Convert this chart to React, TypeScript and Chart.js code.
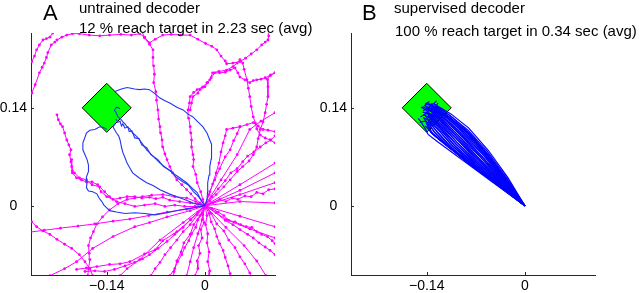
import React, { useEffect, useRef } from "react";
import { Chart, registerables } from "chart.js";

Chart.register(...registerables);

type Pt = [number, number];

// ---------- axes ----------
const X_TICKS = [-0.14, 0];
const X_TICK_LABELS = ["\u22120.14", "0"];
const Y_TICKS = [0, 0.14];
const Y_TICK_LABELS = ["0", "0.14"];
const X_RANGE: [number, number] = [-0.248, 0.1];
const Y_RANGE: [number, number] = [-0.099, 0.247];

// ---------- target ----------
const TARGET: Pt = [-0.14, 0.14];

// ---------- panel titles ----------
const TITLE_A = ["untrained decoder", "12 % reach target in 2.23 sec (avg)"];
const TITLE_B = ["supervised decoder", "100 % reach target in 0.34 sec (avg)"];

// ---------- panel A: failed (magenta) trajectories ----------
const MAG_UPPER: Pt[][] = [
  [[0,0],[-0.007,0.004],[-0.014,0.01],[-0.02,0.017],[-0.026,0.023],[-0.033,0.03],[-0.04,0.037],[-0.046,0.047],[-0.05,0.056],[-0.054,0.066],[-0.057,0.074],[-0.06,0.084],[-0.061,0.094],[-0.063,0.104],[-0.064,0.113],[-0.066,0.124],[-0.067,0.137],[-0.069,0.151],[-0.07,0.163],[-0.073,0.176],[-0.072,0.188],[-0.073,0.2],[-0.074,0.212],[-0.074,0.223],[-0.079,0.231],[-0.086,0.24],[-0.09,0.25]],
  [[-0.26,0.145],[-0.247,0.161],[-0.242,0.173],[-0.236,0.19],[-0.232,0.198],[-0.229,0.204],[-0.226,0.212],[-0.224,0.219],[-0.219,0.23],[-0.214,0.234],[-0.211,0.237],[-0.204,0.241],[-0.197,0.244],[-0.189,0.246],[-0.179,0.246],[-0.165,0.244],[-0.15,0.243],[-0.136,0.244],[-0.12,0.245],[-0.105,0.244],[-0.093,0.246],[-0.086,0.241],[-0.079,0.233],[-0.071,0.238],[-0.06,0.244],[-0.048,0.245],[-0.035,0.244],[-0.021,0.244],[-0.01,0.238],[0.001,0.232],[0.01,0.228],[0.017,0.223],[0.023,0.214],[0.029,0.207],[0.031,0.203],[0.04,0.204],[0.05,0.206],[0.058,0.211],[0.066,0.217],[0.074,0.223],[0.081,0.23],[0.086,0.234],[0.09,0.237],[0.091,0.243],[0.089,0.255]],
  [[-0.26,0.19],[-0.247,0.206],[-0.243,0.214],[-0.24,0.223],[-0.236,0.23],[-0.231,0.237],[-0.226,0.239],[-0.221,0.241],[-0.217,0.247],[-0.214,0.26]],
  [[0,0],[-0.003,0.009],[-0.006,0.02],[-0.011,0.033],[-0.013,0.045],[-0.017,0.056],[-0.016,0.066],[-0.017,0.073],[-0.019,0.084],[-0.019,0.094],[-0.02,0.104],[-0.021,0.113],[-0.023,0.125],[-0.024,0.137],[-0.022,0.147],[-0.021,0.156],[-0.016,0.162],[-0.011,0.166],[-0.003,0.17],[0.003,0.176],[0.007,0.18],[0.011,0.19],[0.02,0.192],[0.031,0.194],[0.04,0.199],[0.046,0.204],[0.05,0.209],[0.054,0.204],[0.056,0.195],[0.06,0.18],[0.062,0.168],[0.064,0.156],[0.066,0.142],[0.069,0.127],[0.072,0.118],[0.074,0.11],[0.079,0.101],[0.086,0.097],[0.093,0.094],[0.1,0.09],[0.11,0.087]],
  [[-0.021,0.137],[-0.019,0.147],[-0.017,0.156],[-0.01,0.161],[-0.007,0.166],[0,0.17],[0.004,0.176],[0.009,0.183],[0.014,0.19],[0.021,0.19],[0.029,0.191],[0.036,0.194],[0.043,0.197],[0.047,0.19],[0.05,0.184],[0.057,0.18],[0.064,0.176],[0.069,0.179],[0.074,0.18],[0.08,0.181],[0.086,0.183],[0.093,0.186],[0.1,0.19],[0.11,0.193]],
  [[0.1,0.19],[0.094,0.187],[0.089,0.181],[0.09,0.17],[0.09,0.156],[0.088,0.145],[0.086,0.133],[0.083,0.12],[0.079,0.109],[0.076,0.096],[0.074,0.084],[0.069,0.073],[0.063,0.064],[0.054,0.056],[0.046,0.049],[0.036,0.037],[0.027,0.027],[0.016,0.016],[0.007,0.007],[0,0]],
  [[0,0],[0.006,0.016],[0.011,0.031],[0.016,0.047],[0.02,0.061],[0.023,0.077],[0.026,0.09],[0.029,0.1],[0.031,0.109],[0.04,0.111],[0.05,0.113],[0.06,0.116],[0.069,0.119],[0.076,0.114],[0.083,0.109],[0.09,0.108],[0.1,0.106],[0.11,0.105]],
  [[0,0],[0.007,0.02],[0.014,0.037],[0.021,0.053],[0.029,0.07],[0.036,0.08],[0.041,0.093],[0.046,0.103],[0.05,0.113]],
];

const MAG_RIGHT: Pt[][] = [
  [[0,0],[0.05,0.03],[0.1,0.061],[0.11,0.067]],
  [[0,0],[0.05,0.022],[0.1,0.047],[0.11,0.051]],
  [[0,0],[0.05,0.016],[0.1,0.033],[0.11,0.036]],
  [[0,0],[0.05,0.006],[0.1,0.004],[0.11,0.004]],
  [[0,0],[0.011,0.004],[0.021,0.009],[0.03,0.006],[0.039,0.011],[0.047,0.009],[0.057,0.014],[0.066,0.013],[0.074,0.019],[0.083,0.017],[0.091,0.023],[0.1,0.024],[0.11,0.028]],
  [[0,0],[0.01,0.013],[0.019,0.024],[0.029,0.036],[0.037,0.047],[0.046,0.053],[0.054,0.063],[0.061,0.071],[0.07,0.077],[0.079,0.084],[0.087,0.09],[0.094,0.094],[0.1,0.1],[0.11,0.106]],
  [[0,0],[0.01,-0.004],[0.019,-0.009],[0.027,-0.014],[0.034,-0.021],[0.043,-0.023],[0.051,-0.027],[0.059,-0.03],[0.067,-0.031],[0.074,-0.037],[0.081,-0.041],[0.089,-0.044],[0.096,-0.05],[0.1,-0.054],[0.11,-0.058]],
  [[0,0],[0.023,0.037],[0.046,0.073],[0.064,0.109],[0.08,0.121],[0.1,0.133],[0.11,0.137]],
  [[0,0],[0.05,-0.015],[0.1,-0.03],[0.11,-0.033]],
  [[0,0],[0.031,-0.02],[0.064,-0.033],[0.1,-0.046],[0.11,-0.049]],
  [[0,0],[0.016,-0.01],[0.029,-0.021],[0.04,-0.027],[0.05,-0.034],[0.061,-0.041],[0.069,-0.046],[0.077,-0.053],[0.086,-0.059],[0.093,-0.064],[0.1,-0.07],[0.11,-0.074]],
];

const MAG_LOWER: Pt[][] = [
  [[0,0],[-0.004,-0.011],[-0.01,-0.02],[-0.013,-0.031],[-0.019,-0.04],[-0.023,-0.05],[-0.029,-0.06],[-0.033,-0.07],[-0.039,-0.08],[-0.043,-0.09],[-0.05,-0.1],[-0.055,-0.11]],
  [[0,0],[-0.004,-0.02],[-0.01,-0.04],[-0.016,-0.06],[-0.021,-0.08],[-0.026,-0.1],[-0.028,-0.11]],
  [[0,0],[-0.003,-0.013],[-0.001,-0.024],[-0.006,-0.034],[-0.004,-0.046],[-0.009,-0.057],[-0.007,-0.068],[-0.011,-0.079],[-0.01,-0.09],[-0.014,-0.1],[-0.015,-0.11]],
  [[0,0],[0.003,-0.014],[0.001,-0.027],[0.004,-0.04],[0.003,-0.053],[0.006,-0.066],[0.004,-0.08],[0.007,-0.093],[0.006,-0.11]],
  [[0,0],[0.006,-0.011],[0.009,-0.023],[0.014,-0.033],[0.017,-0.044],[0.021,-0.054],[0.026,-0.064],[0.029,-0.074],[0.033,-0.086],[0.036,-0.097],[0.041,-0.11]],
  [[0,0],[0.009,-0.011],[0.017,-0.026],[0.027,-0.036],[0.034,-0.049],[0.043,-0.06],[0.05,-0.073],[0.057,-0.083],[0.064,-0.096],[0.07,-0.11]],
  [[0,0],[0.03,-0.031],[0.056,-0.057],[0.074,-0.079],[0.087,-0.1],[0.093,-0.11]],
  [[0,0],[-0.011,-0.013],[-0.021,-0.027],[-0.031,-0.037],[-0.04,-0.049],[-0.049,-0.06],[-0.057,-0.07],[-0.064,-0.081],[-0.071,-0.09],[-0.077,-0.1],[-0.081,-0.11]],
  [[0,0],[-0.031,-0.024],[-0.064,-0.049],[-0.093,-0.077],[-0.111,-0.09],[-0.121,-0.1],[-0.128,-0.11]],
  [[0,0],[-0.007,-0.014],[-0.016,-0.027],[-0.021,-0.041],[-0.03,-0.053],[-0.034,-0.066],[-0.04,-0.079],[-0.044,-0.094],[-0.046,-0.11]],
];

const MAG_LEFT: Pt[][] = [
  [[-0.211,0.13],[-0.209,0.123],[-0.206,0.117],[-0.203,0.113],[-0.2,0.104],[-0.197,0.094],[-0.194,0.087],[-0.191,0.08],[-0.193,0.073],[-0.191,0.063],[-0.19,0.056],[-0.189,0.047],[-0.183,0.04],[-0.176,0.037],[-0.169,0.034],[-0.161,0.034],[-0.153,0.03],[-0.148,0.02],[-0.14,0.013],[-0.131,0.009],[-0.121,0.011],[-0.111,0.013],[-0.1,0.013],[-0.09,0.011],[-0.079,0.012],[-0.07,0.01],[-0.06,0.012],[-0.05,0.008],[-0.036,0.006],[-0.021,0.004],[-0.01,0.002],[0,0]],
  [[-0.19,0.066],[-0.189,0.05],[-0.186,0.047],[-0.179,0.04],[-0.169,0.037],[-0.161,0.03],[-0.15,0.027],[-0.143,0.02],[-0.136,0.013],[-0.126,0.006],[-0.114,0.003],[-0.1,-0.001],[-0.086,0.001],[-0.071,0.003],[-0.057,-0.001],[-0.043,0.001],[-0.029,-0.001],[-0.014,-0.001],[0,0]],
  [[0,0],[-0.026,-0.005],[-0.054,-0.009],[-0.08,-0.014],[-0.107,-0.019],[-0.131,-0.022],[-0.157,-0.026],[-0.181,-0.029],[-0.206,-0.032],[-0.229,-0.035],[-0.26,-0.039]],
  [[-0.169,-0.11],[-0.167,-0.1],[-0.166,-0.09],[-0.164,-0.077],[-0.165,-0.068],[-0.166,-0.057],[-0.163,-0.046],[-0.159,-0.037],[-0.154,-0.026],[-0.146,-0.016],[-0.136,-0.006],[-0.124,0.003],[-0.111,0.009],[-0.1,0.011],[-0.089,0.013],[-0.076,0.015],[-0.06,0.016],[-0.043,0.013],[-0.026,0.011],[-0.013,0.006],[0,0]],
  [[-0.26,-0.015],[-0.247,-0.023],[-0.24,-0.03],[-0.231,-0.036],[-0.221,-0.041],[-0.211,-0.048],[-0.2,-0.055],[-0.19,-0.061],[-0.179,-0.07],[-0.171,-0.08],[-0.164,-0.09],[-0.16,-0.1],[-0.157,-0.11]],
  [[0,0],[-0.021,-0.007],[-0.054,-0.016],[-0.079,-0.024],[-0.1,-0.03],[-0.131,-0.044],[-0.16,-0.061],[-0.183,-0.08],[-0.2,-0.09],[-0.221,-0.1],[-0.235,-0.11]],
  [[-0.171,-0.094],[-0.157,-0.093],[-0.143,-0.094],[-0.129,-0.091],[-0.114,-0.086],[-0.1,-0.081],[-0.089,-0.076],[-0.079,-0.07],[-0.067,-0.061],[-0.054,-0.051],[-0.043,-0.041],[-0.031,-0.031],[-0.021,-0.02],[-0.01,-0.009],[0,0]],
  [[0,0],[-0.02,-0.02],[-0.04,-0.037],[-0.06,-0.05],[-0.071,-0.063],[-0.086,-0.069],[-0.107,-0.08],[-0.121,-0.083],[-0.136,-0.084],[-0.154,-0.087],[-0.169,-0.089],[-0.183,-0.091]],
];

// ---------- panel A: successful (blue) trajectories ----------
const BLUE_A: Pt[][] = [
  [[0,0],[-0.018,-0.003],[-0.036,-0.006],[-0.054,-0.01],[-0.071,-0.013],[-0.086,-0.011],[-0.1,-0.01],[-0.114,-0.011],[-0.126,-0.009],[-0.136,-0.007],[-0.14,-0.003],[-0.144,0.001],[-0.147,0.006],[-0.151,0.011],[-0.154,0.017],[-0.16,0.02],[-0.166,0.021],[-0.169,0.026],[-0.168,0.033],[-0.169,0.041],[-0.166,0.049],[-0.166,0.058],[-0.168,0.066],[-0.171,0.073],[-0.174,0.08],[-0.174,0.09],[-0.171,0.098],[-0.169,0.104],[-0.164,0.108],[-0.157,0.109],[-0.15,0.113],[-0.144,0.112],[-0.14,0.109]],
  [[0,0],[-0.006,0.009],[-0.011,0.019],[-0.019,0.026],[-0.026,0.033],[-0.036,0.04],[-0.046,0.047],[-0.054,0.053],[-0.064,0.061],[-0.073,0.07],[-0.083,0.08],[-0.088,0.087],[-0.093,0.094],[-0.097,0.099],[-0.103,0.104],[-0.107,0.11],[-0.111,0.113],[-0.114,0.117],[-0.117,0.12],[-0.12,0.124],[-0.124,0.127],[-0.126,0.132],[-0.129,0.137],[-0.126,0.141],[-0.121,0.139]],
  [[0,0],[-0.009,0.013],[-0.016,0.02],[-0.024,0.03],[-0.031,0.034],[-0.041,0.041],[-0.049,0.05],[-0.059,0.056],[-0.067,0.066],[-0.077,0.073],[-0.083,0.083],[-0.09,0.087],[-0.094,0.096],[-0.1,0.097],[-0.104,0.107],[-0.108,0.106],[-0.11,0.113],[-0.114,0.111],[-0.117,0.117],[-0.119,0.114],[-0.121,0.121],[-0.124,0.119],[-0.127,0.124]],
  [[0,0],[0.003,0.009],[0.004,0.021],[0.004,0.033],[0.006,0.044],[0.007,0.056],[0.009,0.067],[0.01,0.08],[0.009,0.088],[0.007,0.094],[0.003,0.104],[-0.003,0.113],[-0.01,0.12],[-0.017,0.127],[-0.024,0.131],[-0.031,0.137],[-0.04,0.141],[-0.05,0.147],[-0.057,0.15],[-0.064,0.154],[-0.071,0.16],[-0.079,0.166],[-0.086,0.167],[-0.093,0.166],[-0.1,0.167],[-0.111,0.169],[-0.119,0.167],[-0.124,0.165],[-0.129,0.163]],
  [[0,0],[-0.017,0.004],[-0.029,0.009],[-0.04,0.013],[-0.051,0.017],[-0.064,0.023],[-0.074,0.029],[-0.083,0.033],[-0.094,0.04],[-0.103,0.047],[-0.107,0.054],[-0.111,0.061],[-0.114,0.069],[-0.117,0.076],[-0.119,0.084],[-0.121,0.094],[-0.123,0.1],[-0.126,0.104],[-0.129,0.109],[-0.131,0.113],[-0.128,0.117]],
];

// ---------- panel B: supervised decoder trajectories ----------
const BLUE_B: Pt[][] = [
  [[0,0],[-0.024,0.04],[-0.052,0.079],[-0.08,0.111],[-0.105,0.131],[-0.122,0.141],[-0.13,0.146],[-0.126,0.15]],
  [[0,0],[-0.025,0.039],[-0.053,0.077],[-0.081,0.108],[-0.107,0.129],[-0.124,0.14],[-0.133,0.144]],
  [[0,0],[-0.026,0.038],[-0.055,0.075],[-0.083,0.106],[-0.108,0.127],[-0.125,0.139],[-0.137,0.146],[-0.143,0.143]],
  [[0,0],[-0.026,0.037],[-0.054,0.073],[-0.082,0.104],[-0.108,0.126],[-0.127,0.138],[-0.136,0.142],[-0.131,0.145]],
  [[0,0],[-0.027,0.036],[-0.055,0.071],[-0.084,0.102],[-0.11,0.125],[-0.129,0.137],[-0.14,0.141]],
  [[0,0],[-0.028,0.035],[-0.057,0.07],[-0.086,0.1],[-0.112,0.123],[-0.13,0.135],[-0.138,0.139],[-0.145,0.136]],
  [[0,0],[-0.029,0.035],[-0.059,0.068],[-0.088,0.098],[-0.113,0.121],[-0.131,0.134],[-0.142,0.138]],
  [[0,0],[-0.03,0.034],[-0.061,0.067],[-0.09,0.096],[-0.115,0.12],[-0.132,0.133],[-0.137,0.14],[-0.133,0.146]],
  [[0,0],[-0.031,0.033],[-0.063,0.065],[-0.092,0.094],[-0.116,0.118],[-0.133,0.131],[-0.143,0.134]],
  [[0,0],[-0.032,0.032],[-0.065,0.064],[-0.094,0.092],[-0.118,0.116],[-0.134,0.13],[-0.141,0.137],[-0.148,0.141]],
  [[0,0],[-0.033,0.032],[-0.067,0.062],[-0.096,0.09],[-0.119,0.114],[-0.134,0.128],[-0.14,0.135]],
  [[0,0],[-0.034,0.031],[-0.069,0.061],[-0.098,0.088],[-0.121,0.112],[-0.135,0.126],[-0.144,0.13],[-0.149,0.127]],
  [[0,0],[-0.035,0.03],[-0.071,0.06],[-0.1,0.086],[-0.122,0.11],[-0.135,0.124],[-0.139,0.133],[-0.135,0.139]],
  [[0,0],[-0.036,0.03],[-0.073,0.059],[-0.102,0.085],[-0.123,0.108],[-0.136,0.121],[-0.142,0.128]],
  [[0,0],[-0.037,0.03],[-0.075,0.058],[-0.104,0.083],[-0.124,0.105],[-0.136,0.118],[-0.139,0.125],[-0.134,0.13]],
  [[0,0],[-0.039,0.03],[-0.078,0.059],[-0.107,0.083],[-0.126,0.102],[-0.135,0.113],[-0.137,0.122],[-0.132,0.128]],
  [[0,0],[-0.041,0.031],[-0.082,0.062],[-0.112,0.086],[-0.13,0.101],[-0.136,0.109],[-0.14,0.12],[-0.144,0.125]],
  [[0,0],[-0.043,0.033],[-0.086,0.066],[-0.118,0.092],[-0.133,0.104],[-0.137,0.112],[-0.141,0.118]],
  [[0,0],[-0.045,0.035],[-0.09,0.07],[-0.122,0.095],[-0.134,0.105],[-0.138,0.113],[-0.136,0.121]],
  [[0,0],[-0.045,0.033],[-0.09,0.066],[-0.125,0.092],[-0.138,0.102],[-0.142,0.11],[-0.147,0.118],[-0.152,0.125]],
  [[0,0],[-0.028,0.037],[-0.056,0.073],[-0.081,0.102],[-0.104,0.124],[-0.121,0.136],[-0.127,0.142],[-0.124,0.147]],
  [[0,0],[-0.025,0.037],[-0.051,0.072],[-0.077,0.102],[-0.103,0.126],[-0.122,0.14],[-0.13,0.146],[-0.138,0.144]],
  [[0,0],[-0.03,0.036],[-0.058,0.071],[-0.085,0.101],[-0.109,0.124],[-0.126,0.136],[-0.133,0.143],[-0.141,0.146],[-0.136,0.149]],
  [[0,0],[-0.032,0.034],[-0.062,0.068],[-0.089,0.098],[-0.112,0.122],[-0.128,0.135],[-0.137,0.137],[-0.146,0.142]],
  [[0,0],[-0.034,0.033],[-0.066,0.065],[-0.093,0.094],[-0.115,0.118],[-0.13,0.131],[-0.125,0.137],[-0.129,0.143]],
  [[0,0],[-0.036,0.032],[-0.07,0.063],[-0.097,0.091],[-0.118,0.115],[-0.131,0.128],[-0.138,0.131],[-0.146,0.134]],
  [[0,0],[-0.038,0.031],[-0.074,0.061],[-0.101,0.087],[-0.121,0.111],[-0.133,0.124],[-0.13,0.132],[-0.137,0.137]],
  [[0,0],[-0.04,0.031],[-0.079,0.06],[-0.107,0.085],[-0.125,0.105],[-0.134,0.117],[-0.143,0.121],[-0.15,0.119]],
  [[0,0],[-0.042,0.032],[-0.084,0.064],[-0.115,0.089],[-0.131,0.103],[-0.136,0.11],[-0.134,0.118],[-0.139,0.124]],
  [[0,0],[-0.044,0.034],[-0.088,0.068],[-0.12,0.093],[-0.133,0.104],[-0.137,0.109],[-0.142,0.114]],
  [[0,0],[-0.027,0.036],[-0.053,0.072],[-0.079,0.103],[-0.106,0.125],[-0.124,0.137],[-0.132,0.141],[-0.127,0.14],[-0.129,0.134]],
  [[0,0],[-0.029,0.036],[-0.056,0.071],[-0.083,0.102],[-0.108,0.125],[-0.126,0.137],[-0.139,0.14],[-0.134,0.136]],
  [[0,0],[-0.031,0.035],[-0.06,0.069],[-0.087,0.099],[-0.111,0.123],[-0.128,0.136],[-0.134,0.139],[-0.143,0.143],[-0.14,0.147]],
  [[0,0],[-0.033,0.033],[-0.064,0.066],[-0.091,0.096],[-0.114,0.12],[-0.129,0.133],[-0.136,0.136],[-0.132,0.139]],
  [[0,0],[-0.035,0.032],[-0.068,0.064],[-0.095,0.093],[-0.117,0.117],[-0.13,0.13],[-0.141,0.132],[-0.145,0.129]],
  [[0,0],[-0.037,0.031],[-0.072,0.062],[-0.099,0.089],[-0.12,0.113],[-0.133,0.126],[-0.138,0.129]],
  [[0,0],[-0.039,0.031],[-0.076,0.06],[-0.104,0.086],[-0.123,0.108],[-0.134,0.121],[-0.145,0.126]],
  [[0,0],[-0.041,0.032],[-0.081,0.061],[-0.11,0.086],[-0.128,0.104],[-0.135,0.114],[-0.133,0.124],[-0.138,0.129]],
];

// ---------- styling ----------
const FONT = "'Liberation Sans', Arial, Helvetica, sans-serif";
const AXIS_COLOR = "#262626";
const MAGENTA = "#ff00ff";
const BLUE_A_COLOR = "#2236f0";
const BLUE_B_COLOR = "#0000ff";
const TARGET_FILL = "#00ff00";

const toXY = (p: Pt[]) => p.map(([x, y]) => ({ x, y }));

const inwardTicks = {
  id: "inwardTicks",
  afterDraw(chart: any) {
    const { ctx, chartArea, scales } = chart;
    ctx.save();
    ctx.strokeStyle = AXIS_COLOR;
    ctx.lineWidth = 1;
    X_TICKS.forEach((v) => {
      const px = Math.round(scales.x.getPixelForValue(v)) + 0.5;
      ctx.beginPath();
      ctx.moveTo(px, chartArea.bottom);
      ctx.lineTo(px, chartArea.bottom - 3);
      ctx.stroke();
    });
    Y_TICKS.forEach((v) => {
      const py = Math.round(scales.y.getPixelForValue(v)) + 0.5;
      ctx.beginPath();
      ctx.moveTo(chartArea.left, py);
      ctx.lineTo(chartArea.left + 3, py);
      ctx.stroke();
    });
    ctx.restore();
  },
};

function lineSet(path: Pt[], color: string, markers: boolean, width = 1) {
  return {
    data: toXY(path),
    showLine: true,
    borderColor: color,
    borderWidth: width,
    pointRadius: markers ? 1.4 : 0,
    pointBackgroundColor: color,
    pointBorderWidth: 0,
    pointHoverRadius: 0,
    tension: 0,
  };
}

function targetSet() {
  return {
    data: toXY([TARGET]),
    showLine: false,
    pointStyle: "rectRot",
    pointRadius: 24.5,
    pointBackgroundColor: TARGET_FILL,
    pointBorderColor: "#000000",
    pointBorderWidth: 1,
    pointHoverRadius: 24.5,
  };
}

function makeConfig(datasets: any[]) {
  return {
    type: "scatter" as const,
    data: { datasets },
    options: {
      animation: false,
      responsive: false,
      maintainAspectRatio: false,
      events: [],
      layout: { autoPadding: false, padding: { left: 0, right: 45, top: 33, bottom: 0 } },
      plugins: { legend: { display: false }, tooltip: { enabled: false }, title: { display: false } },
      scales: {
        x: {
          type: "linear",
          min: X_RANGE[0],
          max: X_RANGE[1],
          afterBuildTicks: (s: any) => {
            s.ticks = X_TICKS.map((value) => ({ value }));
          },
          afterFit: (s: any) => {
            s.height = 18;
          },
          grid: { display: false, drawTicks: false },
          border: { display: true, color: AXIS_COLOR, width: 1 },
          ticks: {
            autoSkip: false,
            maxRotation: 0,
            padding: 3,
            color: "#000",
            font: { family: FONT, size: 14 },
            callback: (_v: any, i: number) => X_TICK_LABELS[i],
          },
        },
        y: {
          type: "linear",
          min: Y_RANGE[0],
          max: Y_RANGE[1],
          afterBuildTicks: (s: any) => {
            s.ticks = Y_TICKS.map((value) => ({ value }));
          },
          afterFit: (s: any) => {
            s.width = 31;
          },
          grid: { display: false, drawTicks: false },
          border: { display: true, color: AXIS_COLOR, width: 1 },
          ticks: {
            autoSkip: false,
            padding: 4,
            crossAlign: "center",
            color: "#000",
            font: { family: FONT, size: 14 },
            callback: (_v: any, i: number) => Y_TICK_LABELS[i],
          },
        },
      },
    },
    plugins: [inwardTicks],
  };
}

function Panel({ left, datasets }: { left: number; datasets: any[] }) {
  const ref = useRef<HTMLCanvasElement | null>(null);
  useEffect(() => {
    if (!ref.current) return;
    const chart = new Chart(ref.current, makeConfig(datasets) as any);
    return () => chart.destroy();
  }, []);
  return (
    <canvas
      ref={ref}
      width={320}
      height={293}
      style={{ position: "absolute", left, top: 0, width: 320, height: 293 }}
    />
  );
}

const txt = (left: number, top: number, size: number): React.CSSProperties => ({
  position: "absolute",
  left,
  top,
  fontFamily: FONT,
  fontSize: size,
  lineHeight: "normal",
  color: "#000",
  whiteSpace: "nowrap",
});

export default function App() {
  const datasetsA = [
    ...BLUE_A.map((p) => lineSet(p, BLUE_A_COLOR, false, 1.1)),
    ...[...MAG_UPPER, ...MAG_RIGHT, ...MAG_LOWER, ...MAG_LEFT].map((p) => lineSet(p, MAGENTA, true)),
    targetSet(),
  ];
  const datasetsB = [...BLUE_B.map((p) => lineSet(p, BLUE_B_COLOR, false, 1.2)), targetSet()];

  return (
    <div style={{ position: "fixed", left: 0, top: 0, width: 640, height: 293, background: "#fff", overflow: "hidden" }}>
      <Panel left={0} datasets={datasetsA} />
      <Panel left={320} datasets={datasetsB} />
      <div style={txt(43, 0, 22)}>A</div>
      <div style={txt(79, -1, 15)}>{TITLE_A[0]}</div>
      <div style={txt(79, 19, 15)}>{TITLE_A[1]}</div>
      <div style={txt(362, 0, 22)}>B</div>
      <div style={txt(394, -1, 15)}>{TITLE_B[0]}</div>
      <div style={txt(395, 22, 15)}>{TITLE_B[1]}</div>
    </div>
  );
}
